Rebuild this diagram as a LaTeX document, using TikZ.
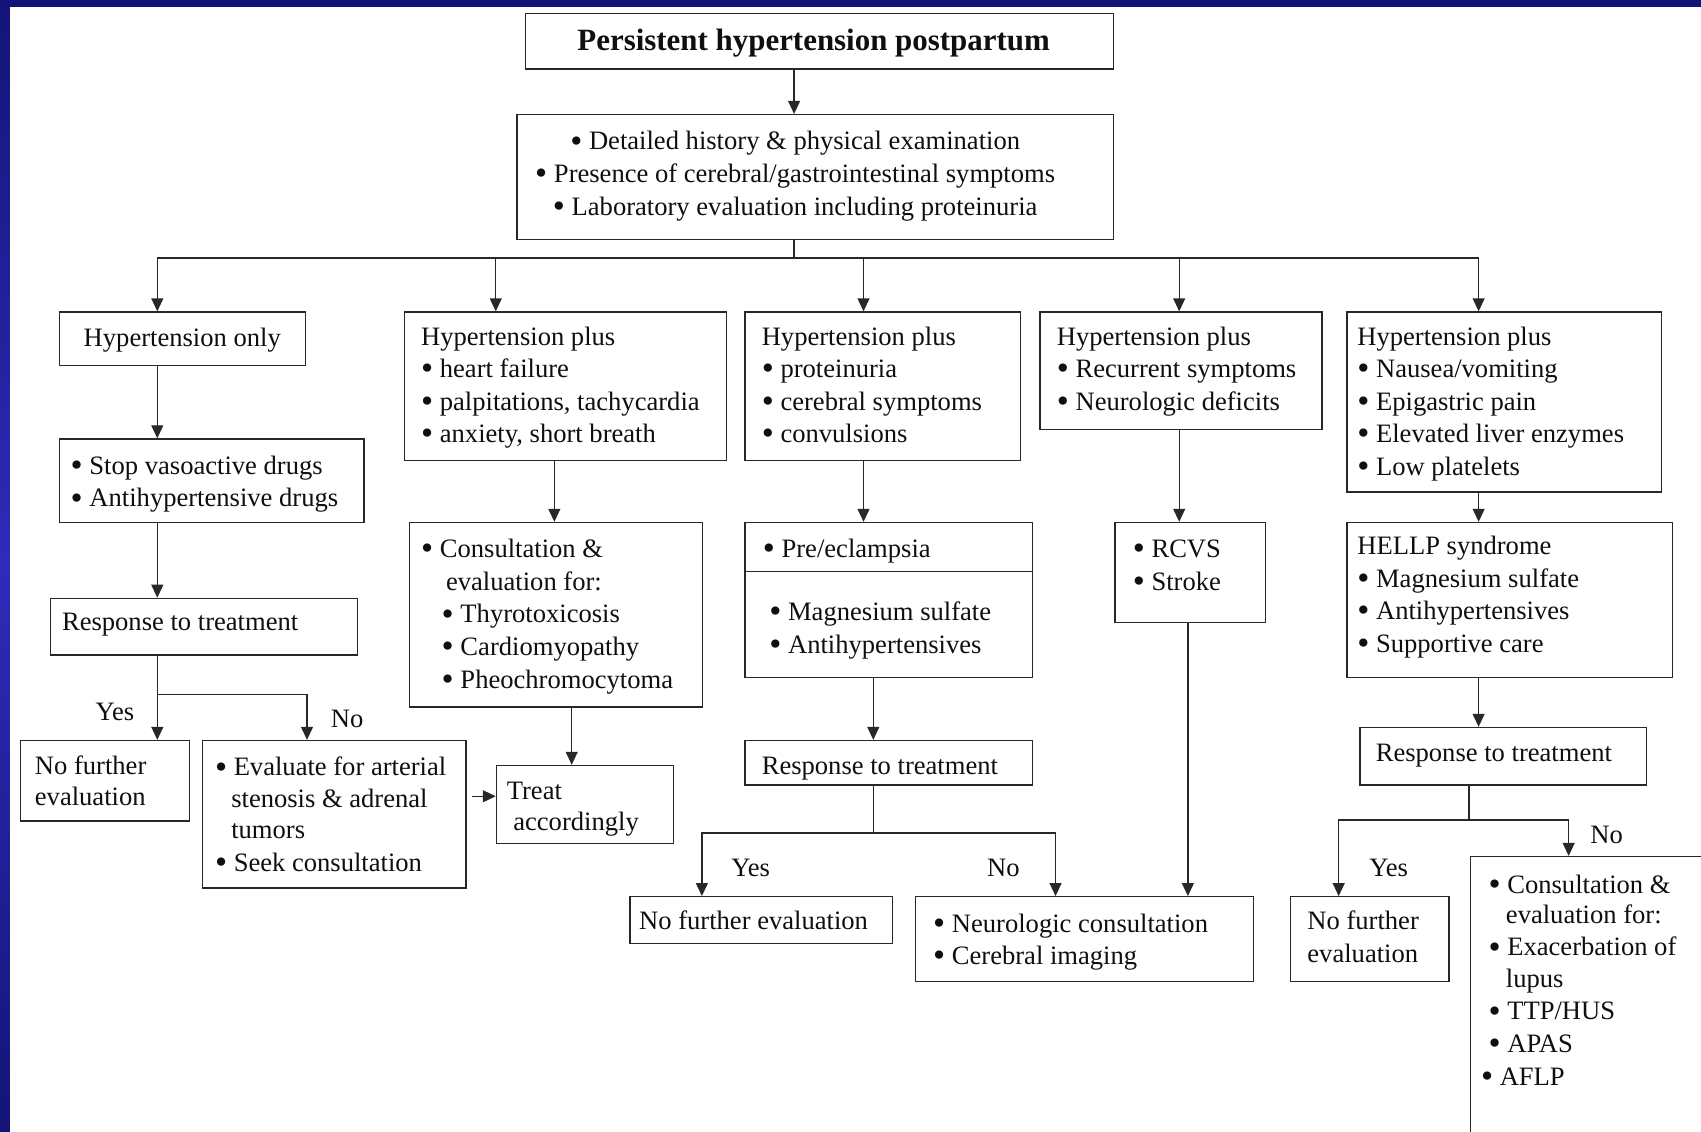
\documentclass[tikz,border=0pt]{standalone}
\usepackage{fontspec}
\setmainfont{Liberation Serif}
\usetikzlibrary{arrows.meta}
\definecolor{navy}{RGB}{20,20,120}
\definecolor{navymid}{RGB}{44,44,185}
\definecolor{ink}{RGB}{15,15,15}
\definecolor{rule}{RGB}{40,40,40}
% a slightly heavier list bullet
\newcommand{\bu}{\raisebox{-2pt}{\scalebox{1.3}{•}}}

\begin{document}
\begin{tikzpicture}[x=1pt,y=-1pt,
  box/.style={draw=rule, line width=1.3pt, inner sep=0pt, anchor=north west},
  txt/.style={inner sep=0pt, anchor=north west, align=left, text=ink,
              font=\fontsize{24.5}{30}\selectfont},
  lbl/.style={inner sep=0pt, anchor=base, text=ink,
              font=\fontsize{24.5}{30}\selectfont},
  link/.style={draw=rule, line width=1.3pt},
  arr/.style={link, -{Triangle[length=12pt,width=11pt]}},
]
% page, frame strips
\useasboundingbox (0,0) rectangle (1568,1043);
\clip (0,0) rectangle (1568,1043);
\fill[white] (0,0) rectangle (1568,1043);
\shade[top color=navy, bottom color=navymid] (0,0) rectangle (9,521.5);
\shade[top color=navymid, bottom color=navy] (0,521.5) rectangle (9,1043);
\fill[navy] (0,0) rectangle (1568,6);

% ---------- boxes ----------
\node[box, minimum width=542pt, minimum height=51pt]  (T)  at (484,12)  {};
\node[box, minimum width=550pt, minimum height=115pt] (H)  at (476,105) {};

\node[box, minimum width=227pt, minimum height=49pt]  (A1) at (54,287)   {};
\node[box, minimum width=297pt, minimum height=137pt] (B1) at (372,287)  {};
\node[box, minimum width=254pt, minimum height=137pt] (C1) at (686,287)  {};
\node[box, minimum width=260pt, minimum height=108pt] (D1) at (958,287)  {};
\node[box, minimum width=290pt, minimum height=166pt] (E1) at (1241,287) {};

\node[box, minimum width=281pt, minimum height=77pt]  (A2) at (54,404)   {};
\node[box, minimum width=270pt, minimum height=170pt] (B2) at (377,481)  {};
\node[box, minimum width=265pt, minimum height=143pt] (C2) at (686,481)  {};
\node[box, minimum width=139pt, minimum height=92pt]  (D2) at (1027,481) {};
\node[box, minimum width=300pt, minimum height=143pt] (E2) at (1241,481) {};

\node[box, minimum width=283pt, minimum height=52pt]  (A3) at (46,551)   {};
\node[box, minimum width=156pt, minimum height=74pt]  (A4) at (18,682)   {};
\node[box, minimum width=243pt, minimum height=136pt] (A5) at (186,682)  {};
\node[box, minimum width=163pt, minimum height=72pt]  (B3) at (457,705)  {};

\node[box, minimum width=265pt, minimum height=41pt]  (C3) at (686,682)  {};
\node[box, minimum width=242pt, minimum height=43pt]  (C4) at (580,826)  {};
\node[box, minimum width=312pt, minimum height=78pt]  (C5) at (843,826)  {};

\node[box, minimum width=264pt, minimum height=53pt]  (E3) at (1253,670) {};
\node[box, minimum width=146pt, minimum height=78pt]  (E4) at (1189,826) {};
\node[box, minimum width=265pt, minimum height=311pt] (E5) at (1355,789) {};

% divider inside the pre/eclampsia box
\draw[link] ([yshift=-46pt]C2.north west) -- ([yshift=-46pt]C2.north east);

% ---------- texts ----------
\node[lbl, font=\fontsize{28.5}{34}\selectfont\bfseries] (Tt) at (750,47)
  {Persistent hypertension postpartum};
\node[txt, anchor=north, align=center] (Ht) at (733,117)
  {\strut\bu{} Detailed history \& physical examination\\
   \bu{} Presence of cerebral/gastrointestinal symptoms\\
   \bu{} Laboratory evaluation including proteinuria};

\node[txt] (A1t) at (77,298) {\strut Hypertension only};
\node[txt] (B1t) at (388,297)
  {\strut Hypertension plus\\ \bu{} heart failure\\ \bu{} palpitations, tachycardia\\ \bu{} anxiety, short breath};
\node[txt] (C1t) at (702,297)
  {\strut Hypertension plus\\ \bu{} proteinuria\\ \bu{} cerebral symptoms\\ \bu{} convulsions};
\node[txt] (D1t) at (974,297)
  {\strut Hypertension plus\\ \bu{} Recurrent symptoms\\ \bu{} Neurologic deficits};
\node[txt] (E1t) at (1251,297)
  {\strut Hypertension plus\\ \bu{} Nausea/vomiting\\ \bu{} Epigastric pain\\ \bu{} Elevated liver enzymes\\ \bu{} Low platelets};

\node[txt] (A2t) at (65,416) {\strut\bu{} Stop vasoactive drugs\\ \bu{} Antihypertensive drugs};
\node[txt] (B2t) at (388,493)
  {\strut\bu{} Consultation \&\\ \hspace*{23pt}evaluation for:\\
   \hspace*{19pt}\bu{} Thyrotoxicosis\\ \hspace*{19pt}\bu{} Cardiomyopathy\\ \hspace*{19pt}\bu{} Pheochromocytoma};
\node[txt] (C2t) at (703,493) {\strut\bu{} Pre/eclampsia};
\node[txt] (C2u) at (709,551) {\strut\bu{} Magnesium sulfate\\ \bu{} Antihypertensives};
\node[txt] (D2t) at (1044,493) {\strut\bu{} RCVS\\ \bu{} Stroke};
\node[txt] (E2t) at (1251,490)
  {\strut HELLP syndrome\\ \bu{} Magnesium sulfate\\ \bu{} Antihypertensives\\ \bu{} Supportive care};

\node[txt] (A3t) at (57,560) {\strut Response to treatment};
\node[txt] (A4t) at (32,693) {\strut No further\\[-2pt] evaluation};
\node[txt] (A5t) at (198,694)
  {\strut\bu{} Evaluate for arterial\\[-1pt] \hspace*{15pt}stenosis \& adrenal\\[-1pt]
   \hspace*{15pt}tumors\\ \bu{} Seek consultation};
\node[txt] (B3t) at (467,716) {\strut Treat\\[-2pt] \hspace*{6pt}accordingly};

\node[txt] (C3t) at (702,693) {\strut Response to treatment};
\node[txt] (C4t) at (589,836) {\strut No further evaluation};
\node[txt] (C5t) at (860,838) {\strut\bu{} Neurologic consultation\\ \bu{} Cerebral imaging};

\node[txt] (E3t) at (1268,681) {\strut Response to treatment};
\node[txt] (E4t) at (1205,836) {\strut No further\\ evaluation};
\node[txt] (E5t) at (1372,802)
  {\strut\bu{} Consultation \&\\[-2pt] \hspace*{16pt}evaluation for:\\
   \bu{} Exacerbation of\\[-1pt] \hspace*{16pt}lupus\\ \bu{} TTP/HUS\\ \bu{} APAS\\
   \hspace*{-7pt}\bu{} AFLP};

% branch labels
\node[lbl] (yes1) at (106,664) {Yes};
\node[lbl] (no1)  at (320,671) {No};
\node[lbl] (yes2) at (692,808) {Yes};
\node[lbl] (no2)  at (925,808) {No};
\node[lbl] (yes3) at (1280,808) {Yes};
\node[lbl] (no3)  at (1481,778) {No};

% ---------- connectors ----------
\coordinate (cx) at (732,0);
\draw[arr] (T.south -| cx) -- (H.north -| cx);

\coordinate (bus1) at (145,238);
\coordinate (bus2) at (457,238);
\coordinate (bus3) at (796,238);
\coordinate (bus4) at (1087,238);
\coordinate (bus5) at (1363,238);
\draw[link] (H.south -| cx) -- (cx |- bus1);
\draw[link] (bus1) -- (bus5);
\draw[arr] (bus1) -- (bus1 |- A1.north);
\draw[arr] (bus2) -- (bus2 |- B1.north);
\draw[arr] (bus3) -- (bus3 |- C1.north);
\draw[arr] (bus4) -- (bus4 |- D1.north);
\draw[arr] (bus5) -- (bus5 |- E1.north);

% hypertension only
\draw[arr] (A1.south -| bus1) -- (A2.north -| bus1);
\draw[arr] (A2.south -| bus1) -- (A3.north -| bus1);
\coordinate (jA)  at (145,640);
\coordinate (jA2) at (283,640);
\draw[arr] (A3.south -| jA) -- (A4.north -| jA);
\draw[arr] (jA) -- (jA2) -- (A5.north -| jA2);

% heart failure branch
\coordinate (cB)  at (511,0);
\coordinate (cB2) at (527,0);
\coordinate (yAB) at (0,734);
\draw[arr] (B1.south -| cB) -- (B2.north -| cB);
\draw[arr] (B2.south -| cB2) -- (B3.north -| cB2);
\draw[arr] (A5.east |- yAB) ++(5,0) -- (B3.west |- yAB);

% pre/eclampsia branch
\coordinate (cC) at (805,0);
\draw[arr] (C1.south -| bus3) -- (C2.north -| bus3);
\draw[arr] (C2.south -| cC) -- (C3.north -| cC);
\coordinate (jC)  at (805,768);
\coordinate (jCl) at (647,768);
\coordinate (jCr) at (973,768);
\draw[link] (C3.south -| jC) -- (jC);
\draw[arr] (jC) -- (jCl) -- (C4.north -| jCl);
\draw[arr] (jC) -- (jCr) -- (C5.north -| jCr);

% neurologic branch
\coordinate (cD) at (1095,0);
\draw[arr] (D1.south -| bus4) -- (D2.north -| bus4);
\draw[arr] (D2.south -| cD) -- (C5.north -| cD);

% HELLP branch
\draw[arr] (E1.south -| bus5) -- (E2.north -| bus5);
\draw[arr] (E2.south -| bus5) -- (E3.north -| bus5);
\coordinate (jE)  at (1354,756);
\coordinate (jEl) at (1234,756);
\coordinate (jEr) at (1446,756);
\draw[link] (E3.south -| jE) -- (jE);
\draw[arr] (jE) -- (jEl) -- (E4.north -| jEl);
\draw[arr] (jE) -- (jEr) -- (E5.north -| jEr);
\end{tikzpicture}
\end{document}
